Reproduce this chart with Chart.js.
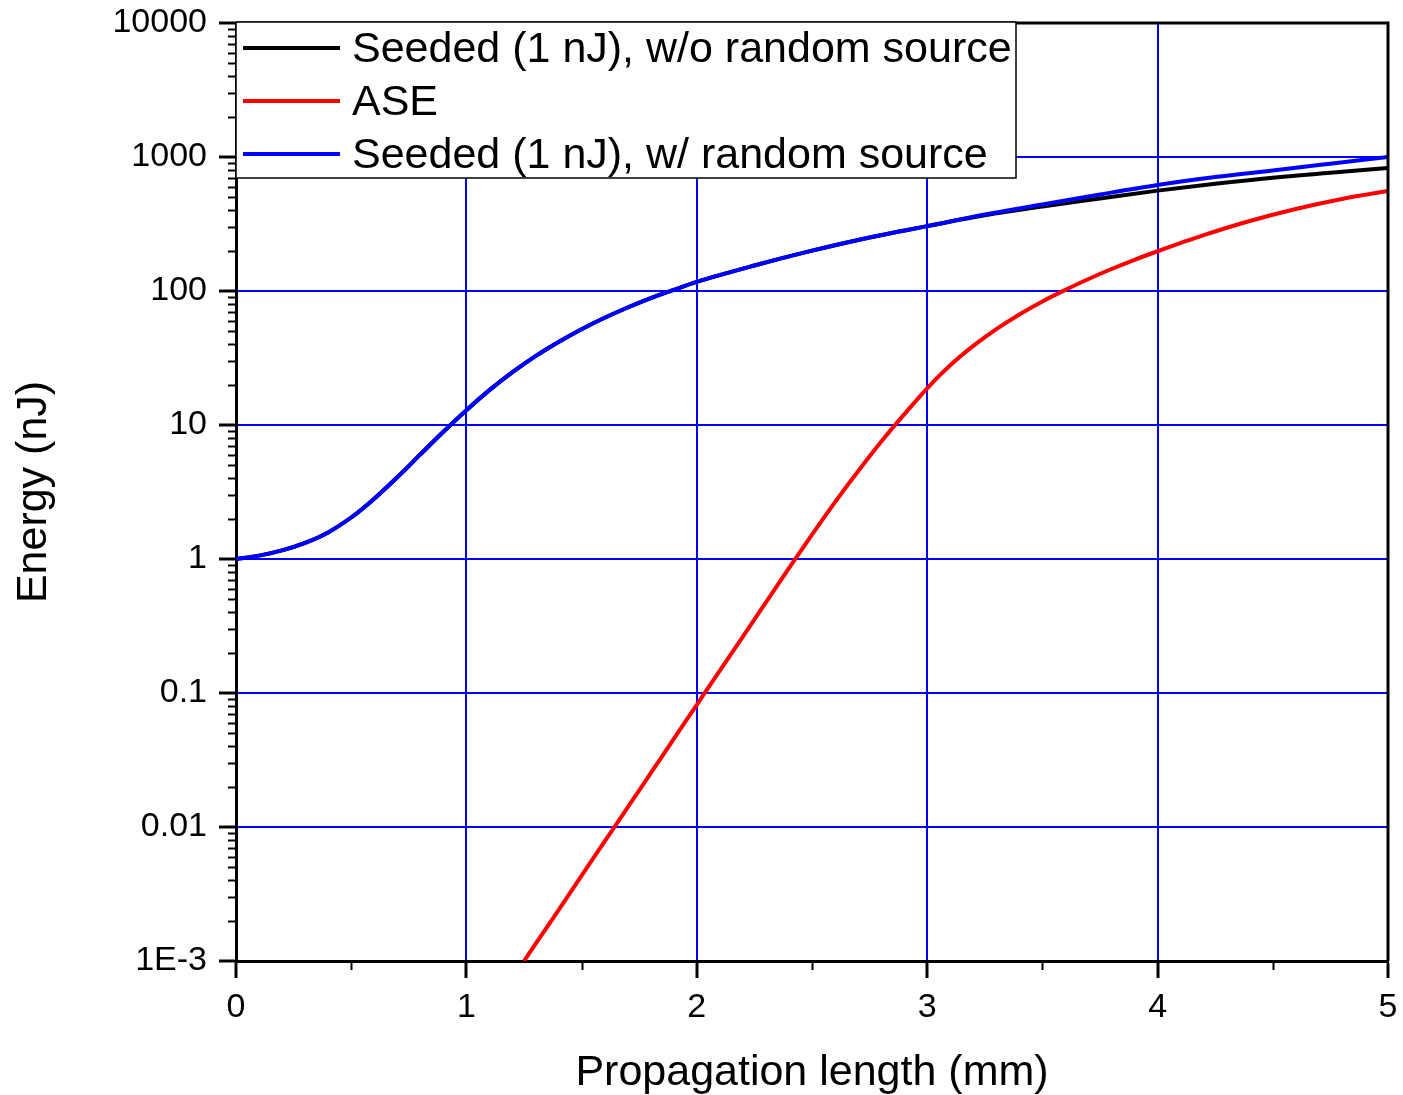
<!DOCTYPE html>
<html>
<head>
<meta charset="utf-8">
<script src="https://cdn.jsdelivr.net/npm/chart.js@4/dist/chart.umd.min.js"></script>
<style>
  html, body { margin: 0; padding: 0; background: #fff; }
  #wrap { width: 1403px; height: 1095px; }
</style>
</head>
<body>
<div id="wrap"><canvas id="energyChart" width="1403" height="1095"></canvas></div>
<script>
// values
const seededX = [0, 0.1, 0.2, 0.3, 0.4, 0.5, 0.6, 0.7, 0.8, 0.9, 1.0, 1.1, 1.2, 1.3, 1.4, 1.5, 1.6, 1.7, 1.8, 1.9, 2.0,
    2.25, 2.5, 2.75, 3.0, 3.25, 3.5, 3.75, 4.0, 4.25, 4.5, 4.75, 5.0];
const seededNoRandom = [1, 1.06, 1.16, 1.32, 1.58, 2.04, 2.82, 4.07, 6.03, 8.91, 12.9, 18.2, 24.8, 32.7, 41.7, 51.9, 63.1, 75.3, 88.5, 102, 117,
    155, 200, 251, 305, 367, 427, 490, 561, 631, 700, 762, 828];
const seededRandom = [1, 1.06, 1.16, 1.32, 1.58, 2.04, 2.82, 4.07, 6.03, 8.91, 12.9, 18.2, 24.8, 32.7, 41.7, 51.9, 63.1, 75.3, 88.5, 102, 117,
    155, 200, 251, 305, 372, 442, 525, 618, 708, 794, 891, 1000];
const aseX = [1.25, 1.3, 1.4, 1.5, 1.6, 1.7, 1.8, 1.9, 2.0, 2.1, 2.2, 2.3, 2.4, 2.5, 2.6, 2.7, 2.8, 2.9, 3.0,
    3.1, 3.2, 3.3, 3.4, 3.5, 3.6, 3.7, 3.8, 3.9, 4.0, 4.2, 4.4, 4.6, 4.8, 5.0];
const ase = [0.001, 0.00134, 0.0024, 0.00434, 0.0078, 0.014, 0.0252, 0.0454, 0.0817, 0.147, 0.264, 0.475, 0.855, 1.52, 2.66, 4.52, 7.5, 12, 18.8,
    27.9, 38.9, 51.9, 66.8, 83.6, 102, 123, 146, 171, 198, 261, 333, 409, 486, 558];
const yTicks = [0.001, 0.01, 0.1, 1, 10, 100, 1000, 10000];
const yTickLabels = ['1E-3', '0.01', '0.1', '1', '10', '100', '1000', '10000'];
const xTicks = [0, 1, 2, 3, 4, 5];

const FONT = "'Liberation Sans', Arial, sans-serif";
const toPoints = (xs, ys) => xs.map((x, i) => ({ x: x, y: ys[i] }));

// minor ticks, frame and the boxed legend in the top left corner
const extras = {
    id: 'extras',
    afterDatasetsDraw(chart) {
        const ctx = chart.ctx;
        const area = chart.chartArea;
        const xs = chart.scales.x;
        const ys = chart.scales.y;
        ctx.save();
        ctx.strokeStyle = '#000';
        ctx.lineWidth = 2;
        // minor y ticks
        for (let d = -3; d < 4; d++) {
            for (let k = 2; k < 10; k++) {
                const py = Math.round(ys.getPixelForValue(k * Math.pow(10, d))) + 0.5;
                ctx.beginPath();
                ctx.moveTo(area.left - 8, py);
                ctx.lineTo(area.left, py);
                ctx.stroke();
            }
        }
        // minor x ticks
        for (let v = 0.5; v < 5; v += 1) {
            const px = Math.round(xs.getPixelForValue(v)) + 0.5;
            ctx.beginPath();
            ctx.moveTo(px, area.bottom);
            ctx.lineTo(px, area.bottom + 9);
            ctx.stroke();
        }
        // top and right frame
        ctx.lineWidth = 3;
        ctx.beginPath();
        ctx.moveTo(area.left, area.top);
        ctx.lineTo(area.right, area.top);
        ctx.lineTo(area.right, area.bottom);
        ctx.stroke();

        // legend box
        const boxL = area.left, boxT = area.top - 1, boxW = 780, boxH = 156;
        ctx.fillStyle = '#fff';
        ctx.fillRect(boxL, boxT, boxW, boxH);
        ctx.lineWidth = 1.5;
        ctx.strokeRect(boxL, boxT, boxW, boxH);
        ctx.font = '43px ' + FONT;
        ctx.textBaseline = 'middle';
        chart.data.datasets.forEach((ds, i) => {
            const ly = boxT + 26 + i * 53;
            ctx.strokeStyle = ds.borderColor;
            ctx.lineWidth = 4;
            ctx.beginPath();
            ctx.moveTo(boxL + 7, ly);
            ctx.lineTo(boxL + 104, ly);
            ctx.stroke();
            ctx.fillStyle = '#000';
            ctx.fillText(ds.label, boxL + 116, ly + 2);
        });
        ctx.restore();
    }
};

const ctx = document.getElementById('energyChart');
new Chart(ctx, {
    type: 'line',
    data: {
        datasets: [{
            label: 'Seeded (1 nJ), w/o random source',
            data: toPoints(seededX, seededNoRandom),
            borderColor: '#000000',
            borderWidth: 4,
            pointRadius: 0,
            order: 2,
            cubicInterpolationMode: 'monotone'
        }, {
            label: 'ASE',
            data: toPoints(aseX, ase),
            borderColor: '#ff0000',
            borderWidth: 4,
            pointRadius: 0,
            order: 1,
            cubicInterpolationMode: 'monotone'
        }, {
            label: 'Seeded (1 nJ), w/ random source',
            data: toPoints(seededX, seededRandom),
            borderColor: '#0000ff',
            borderWidth: 4,
            pointRadius: 0,
            order: 0,
            cubicInterpolationMode: 'monotone'
        }]
    },
    options: {
        responsive: false,
        animation: false,
        layout: { padding: { top: 23, right: 15, left: 0, bottom: 0 } },
        plugins: {
            legend: { display: false },
            tooltip: { enabled: false }
        },
        scales: {
            x: {
                type: 'linear',
                min: 0,
                max: 5,
                afterBuildTicks: (scale) => { scale.ticks = xTicks.map(v => ({ value: v })); },
                afterFit: (scale) => {
                    scale.height = 134;
                    scale.paddingLeft = 0;
                    scale.paddingRight = 0;
                },
                grid: { color: '#0000ff', lineWidth: 2, tickColor: '#000', tickWidth: 3, tickLength: 17 },
                border: { color: '#000', width: 3 },
                ticks: { color: '#000', font: { family: FONT, size: 34 }, padding: 9, maxRotation: 0 },
                title: {
                    display: true,
                    text: 'Propagation length (mm)',
                    color: '#000',
                    font: { family: FONT, size: 43, lineHeight: 1 },
                    padding: { top: 0, bottom: 0 }
                }
            },
            y: {
                type: 'logarithmic',
                min: 0.001,
                max: 10000,
                afterBuildTicks: (scale) => { scale.ticks = yTicks.map(v => ({ value: v })); },
                afterFit: (scale) => {
                    scale.width = 236;
                    scale.paddingTop = 0;
                    scale.paddingBottom = 0;
                },
                grid: { color: '#0000ff', lineWidth: 2, tickColor: '#000', tickWidth: 3, tickLength: 17 },
                border: { color: '#000', width: 3 },
                ticks: {
                    color: '#000',
                    font: { family: FONT, size: 34 },
                    padding: 12,
                    callback: (v) => yTickLabels[yTicks.indexOf(v)]
                },
                title: {
                    display: true,
                    text: 'Energy (nJ)',
                    color: '#000',
                    font: { family: FONT, size: 43, lineHeight: 1 },
                    padding: { top: 13, bottom: 0 }
                }
            }
        }
    },
    plugins: [extras]
});
</script>
</body>
</html>
